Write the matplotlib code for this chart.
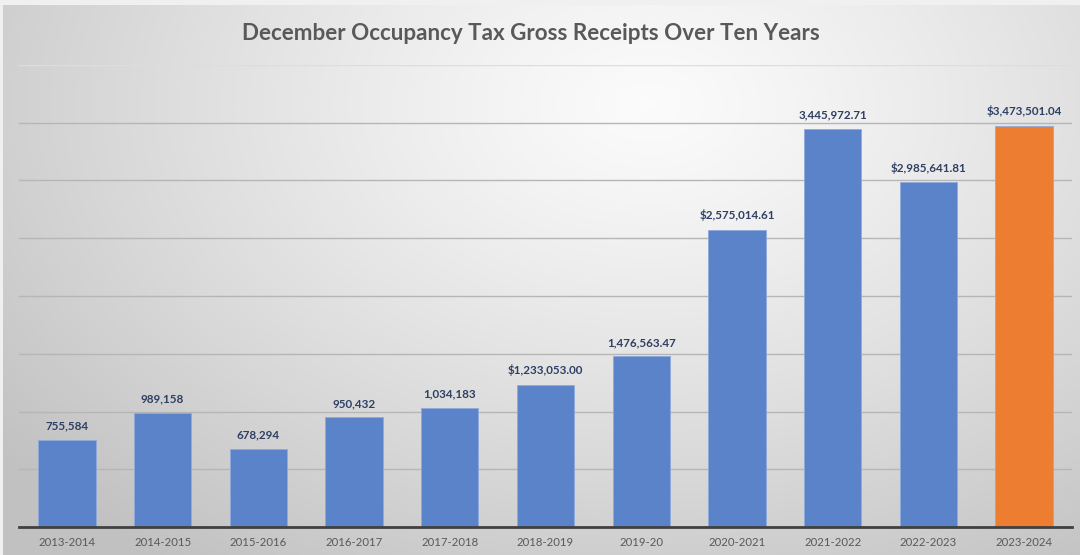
import numpy as np
import matplotlib
matplotlib.use("Agg")
import matplotlib.pyplot as plt

# Data
seasons = ["2013-2014", "2014-2015", "2015-2016", "2016-2017", "2017-2018",
           "2018-2019", "2019-20", "2020-2021", "2021-2022", "2022-2023", "2023-2024"]
receipts = [755584, 989158, 678294, 950432, 1034183,
            1233053.00, 1476563.47, 2575014.61, 3445972.71, 2985641.81, 3473501.04]
value_labels = ["755,584", "989,158", "678,294", "950,432", "1,034,183",
                "$1,233,053.00", "1,476,563.47", "$2,575,014.61", "3,445,972.71",
                "$2,985,641.81", "$3,473,501.04"]
grid_values = [0, 500000, 1000000, 1500000, 2000000, 2500000, 3000000, 3500000, 4000000]
title = "December Occupancy Tax Gross Receipts Over Ten Years"

BLUE = "#5b83c9"
ORANGE = "#ed7d31"
bar_colors = [BLUE] * (len(seasons) - 1) + [ORANGE]

W, H = 1080, 555
fig = plt.figure(figsize=(W / 100, H / 100), dpi=100, facecolor="#f0f0f0")

# Soft radial gray gradient behind the chart
bg = fig.add_axes([3 / W, 0, 1 - 3 / W, 1 - 5 / H], zorder=-10)
yy, xx = np.mgrid[0:1:300j, 0:1:600j]
d = np.sqrt(((xx - 0.6) / 0.75) ** 2 + ((yy - 0.18) / 1.0) ** 2)
shade = np.clip(0.985 - 0.22 * d ** 1.2, 0.76, 1.0)
bg.imshow(np.dstack([shade] * 3), aspect="auto", extent=[0, 1, 1, 0],
          interpolation="bilinear")
bg.set_axis_off()

ax = fig.add_axes([19 / W, 28 / H, (1072 - 19) / W, (527 - 65) / H])
ax.patch.set_alpha(0)

x = np.arange(len(seasons))
ax.bar(x, receipts, width=0.6, color=bar_colors, edgecolor="#8eaadc",
       linewidth=0.6, zorder=3)

for xi, val, lab in zip(x, receipts, value_labels):
    ax.annotate(lab, (xi, val), xytext=(0, 6), textcoords="offset points",
                ha="center", va="bottom", fontsize=8.4, fontweight="bold",
                color="#2e3f63", family="Lato", zorder=4)

ax.set_ylim(0, 4000000)
ax.set_xlim(-0.5, len(seasons) - 0.5)
ax.set_yticks(grid_values)
ax.set_xticks(x)
ax.set_xticklabels(seasons, fontsize=8.2, color="#595959", family="Lato")
ax.tick_params(axis="y", length=0, labelleft=False)
ax.tick_params(axis="x", length=0, pad=7.5)
ax.grid(axis="y", color="#b6b6b6", linewidth=1.0, zorder=0)
ax.set_axisbelow(True)
gl = ax.get_ygridlines()
gl[-1].set_color("#dddddd")
gl[0].set_visible(False)

for side in ("top", "left", "right"):
    ax.spines[side].set_visible(False)
ax.spines["bottom"].set_color("#404040")
ax.spines["bottom"].set_linewidth(2)
ax.spines["bottom"].set_zorder(5)

fig.text(531 / W, 1 - 33 / H, title, ha="center", va="center",
         fontsize=16.1, fontweight="bold", color="#595959", family="Lato")

fig.savefig("out.png", dpi=100, facecolor=fig.get_facecolor())
